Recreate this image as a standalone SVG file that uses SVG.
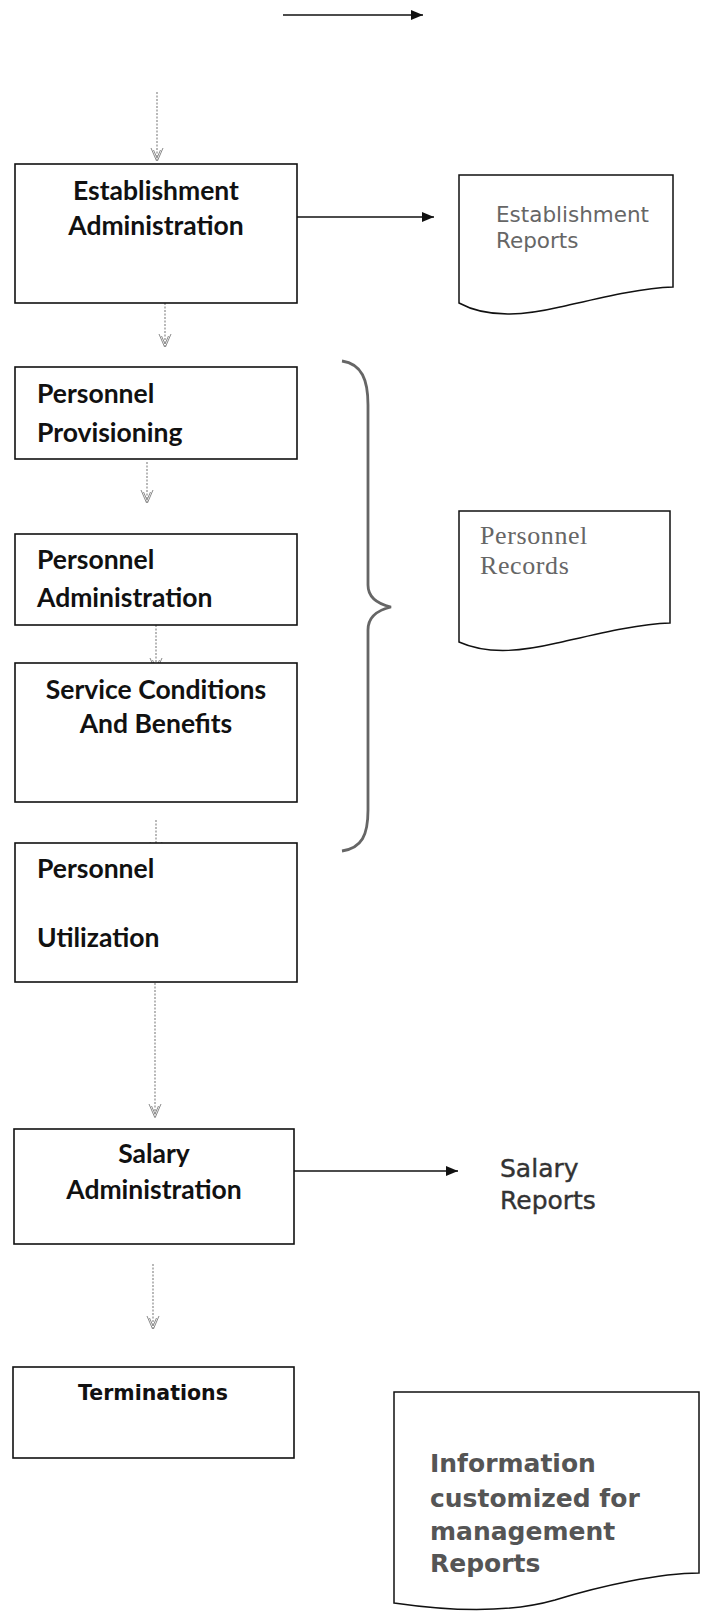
<svg xmlns="http://www.w3.org/2000/svg" width="705" height="1611" viewBox="0 0 705 1611">
<style>
.box{fill:#fff;stroke:#111;stroke-width:1.6}
.doc{fill:#fff;stroke:#111;stroke-width:1.5}
.lbl{font-family:Lato,"Open Sans",sans-serif;font-weight:bold;font-size:26.5px;fill:#111}
.solid{stroke:#111;stroke-width:1.6;fill:none}
.dot{stroke:#8a8a8a;stroke-width:1.2;stroke-dasharray:2 1.5;fill:none}
.brace{stroke:#666;stroke-width:2.8;fill:none}
</style>
<defs>
<marker id="ah" viewBox="0 0 12 10" refX="12" refY="5" markerWidth="12" markerHeight="10" markerUnits="userSpaceOnUse" orient="auto">
<path d="M0,0 L12,5 L0,10 Z" fill="#111"/>
</marker>
<marker id="vh" viewBox="0 0 12 14" refX="14" refY="7" markerWidth="14" markerHeight="14" markerUnits="userSpaceOnUse" orient="auto">
<path d="M0,1 L14,7 L0,13 M2,3.5 L10,7 L2,10.5" fill="none" stroke="#8a8a8a" stroke-width="1"/>
</marker>
</defs>
<g id="connectors">
<line class="solid" x1="283" y1="15" x2="423" y2="15" marker-end="url(#ah)"/>
<line class="dot" x1="157" y1="92" x2="157" y2="162" marker-end="url(#vh)"/>
<line class="solid" x1="297" y1="217" x2="434" y2="217" marker-end="url(#ah)"/>
<line class="dot" x1="165" y1="303" x2="165" y2="348" marker-end="url(#vh)"/>
<line class="dot" x1="147" y1="462" x2="147" y2="504" marker-end="url(#vh)"/>
<line class="dot" x1="156" y1="625" x2="156" y2="672" marker-end="url(#vh)"/>
<line class="dot" x1="156" y1="820" x2="156" y2="856" marker-end="url(#vh)"/>
<line class="dot" x1="155" y1="983" x2="155" y2="1118" marker-end="url(#vh)"/>
<line class="solid" x1="294" y1="1171" x2="458" y2="1171" marker-end="url(#ah)"/>
<line class="dot" x1="153" y1="1264" x2="153" y2="1330" marker-end="url(#vh)"/>
</g>
<g id="establishment-admin">
<rect class="box" x="15" y="164" width="282" height="139"/>
<text class="lbl" x="156" y="200" text-anchor="middle">Establishment</text>
<text class="lbl" x="156" y="235" text-anchor="middle">Administration</text>
</g>
<g id="establishment-reports">
<path class="doc" d="M459,175 L673,175 L673,287 C640,288 600,298 560,307 C530,314 490,320 459,303 Z"/>
<text x="496" y="222" font-family="DejaVu Sans,Verdana,sans-serif" font-size="21.5" fill="#666">Establishment</text>
<text x="496" y="248" font-family="DejaVu Sans,Verdana,sans-serif" font-size="21.5" fill="#666">Reports</text>
</g>
<g id="personnel-provisioning">
<rect class="box" x="15" y="367" width="282" height="92"/>
<text class="lbl" x="37" y="403">Personnel</text>
<text class="lbl" x="37" y="442">Provisioning</text>
</g>
<g id="personnel-administration">
<rect class="box" x="15" y="534" width="282" height="91"/>
<text class="lbl" x="37" y="569">Personnel</text>
<text class="lbl" x="37" y="607">Administration</text>
</g>
<g id="service-conditions">
<rect class="box" x="15" y="663" width="282" height="139"/>
<text class="lbl" x="156" y="699" text-anchor="middle">Service Conditions</text>
<text class="lbl" x="156" y="733" text-anchor="middle">And Benefits</text>
</g>
<g id="personnel-utilization">
<rect class="box" x="15" y="843" width="282" height="139"/>
<text class="lbl" x="37" y="878">Personnel</text>
<text class="lbl" x="37" y="947">Utilization</text>
</g>
<g id="brace">
<path class="brace" d="M342,361 C362,364 368,380 368,405 L368,585 C368,598 378,604 391,607 C378,610 368,616 368,630 L368,810 C368,835 362,848 342,851"/>
</g>
<g id="personnel-records">
<path class="doc" d="M459,511 L670,511 L670,623 C637,624 597,634 557,643 C527,650 490,656 459,642 Z"/>
<text x="480" y="544" font-family="Liberation Serif,Times New Roman,serif" font-size="26" letter-spacing="0.6" fill="#666">Personnel</text>
<text x="480" y="574" font-family="Liberation Serif,Times New Roman,serif" font-size="26" letter-spacing="0.6" fill="#666">Records</text>
</g>
<g id="salary-administration">
<rect class="box" x="14" y="1129" width="280" height="115"/>
<text class="lbl" x="154" y="1163" text-anchor="middle">Salary</text>
<text class="lbl" x="154" y="1199" text-anchor="middle">Administration</text>
</g>
<g id="salary-reports">
<text x="500" y="1177" font-family="DejaVu Sans,Verdana,sans-serif" font-size="25" fill="#333" stroke="#333" stroke-width="0.4">Salary</text>
<text x="500" y="1209" font-family="DejaVu Sans,Verdana,sans-serif" font-size="25" fill="#333" stroke="#333" stroke-width="0.4">Reports</text>
</g>
<g id="terminations">
<rect class="box" x="13" y="1367" width="281" height="91"/>
<text x="153" y="1400" text-anchor="middle" font-family="DejaVu Sans,Verdana,sans-serif" font-weight="bold" font-size="20.5" fill="#111">Terminations</text>
</g>
<g id="management-reports">
<path class="doc" d="M394,1392 L699,1392 L699,1573 C660,1573 600,1586 555,1600 C520,1610 470,1614 394,1603 Z"/>
<text x="430" y="1472" font-family="DejaVu Sans,Verdana,sans-serif" font-weight="bold" font-size="25" fill="#555">Information</text>
<text x="430" y="1507" font-family="DejaVu Sans,Verdana,sans-serif" font-weight="bold" font-size="25" fill="#555">customized for</text>
<text x="430" y="1540" font-family="DejaVu Sans,Verdana,sans-serif" font-weight="bold" font-size="25" fill="#555">management</text>
<text x="430" y="1572" font-family="DejaVu Sans,Verdana,sans-serif" font-weight="bold" font-size="25" fill="#555">Reports</text>
</g>
</svg>
